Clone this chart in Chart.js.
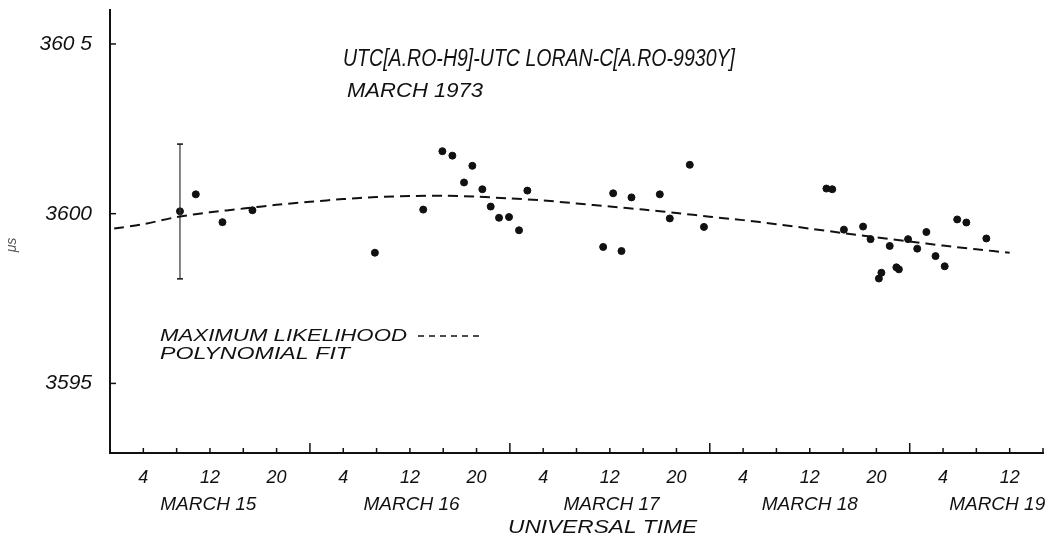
<!DOCTYPE html>
<html>
<head>
<meta charset="utf-8">
<script src="https://cdn.jsdelivr.net/npm/chart.js@4.4.1/dist/chart.umd.min.js"></script>
<style>
  html, body { margin: 0; padding: 0; background: #fff; }
</style>
</head>
<body>
<canvas id="chart" width="1051" height="539"></canvas>
<script>
// Observed values, hours counted from March 15 00h UT
const obsHours = [8.4, 10.3, 13.5, 17.1, 31.8, 37.6, 39.9, 41.1, 42.5, 43.5, 44.7, 45.7, 46.7, 47.9,
    49.1, 50.1, 59.2, 60.4, 61.4, 62.6, 66.0, 67.2, 69.6, 71.3, 86.0, 86.7, 88.1, 90.4, 91.3, 92.3,
    92.6, 93.6, 94.4, 94.7, 95.8, 96.9, 98.0, 99.1, 100.2, 101.7, 102.8, 105.2];
const obsValues = [3600.07, 3600.57, 3599.75, 3600.10, 3598.85, 3600.12, 3601.84, 3601.71, 3600.92,
    3601.41, 3600.72, 3600.21, 3599.88, 3599.90, 3599.51, 3600.68, 3599.02, 3600.60, 3598.90, 3600.48,
    3600.57, 3599.86, 3601.44, 3599.61, 3600.74, 3600.72, 3599.53, 3599.62, 3599.25, 3598.09, 3598.26,
    3599.05, 3598.42, 3598.36, 3599.25, 3598.97, 3599.46, 3598.75, 3598.45, 3599.83, 3599.74, 3599.27];

// Maximum likelihood polynomial fit (dashed)
const fitHours = [0.5, 4, 8, 12, 16, 20, 24, 28, 32, 36, 40, 44, 48, 52, 56, 60, 64, 68, 72, 76,
    80, 84, 88, 92, 96, 100, 104, 108];
const fitValues = [3599.56, 3599.69, 3599.90, 3600.04, 3600.15, 3600.26, 3600.35, 3600.43, 3600.49,
    3600.52, 3600.53, 3600.50, 3600.45, 3600.39, 3600.30, 3600.21, 3600.12, 3600.02, 3599.91, 3599.81,
    3599.69, 3599.56, 3599.43, 3599.30, 3599.18, 3599.06, 3598.95, 3598.85];

// Error bar on the first point
const errHour = 8.4;
const errLow = 3598.08;
const errHigh = 3602.05;

// Axis ticks and labels
const hourTicks = [];
for (let h = 0; h <= 112; h += 4) hourTicks.push(h);
const hourLabels = { 4: "4", 12: "12", 20: "20" };
const dayLabelHours = [11.8, 36.2, 60.2, 84, 106.5];
const dayLabels = ["MARCH 15", "MARCH 16", "MARCH 17", "MARCH 18", "MARCH 19"];
const yTicks = [3605, 3600, 3595];
const yLabels = ["360 5", "3600", "3595"];

const FONT = "'Liberation Sans', 'DejaVu Sans', sans-serif";
const INK = "#111";

// draw text stretched/condensed to a given width
function fitText(c, text, x, y, width, size) {
    c.save();
    c.font = "italic " + size + "px " + FONT;
    const w = c.measureText(text).width;
    c.translate(x, y);
    c.scale(width / w, 1);
    c.fillText(text, 0, 0);
    c.restore();
}

function noPad(s) {
    s.paddingTop = 0;
    s.paddingBottom = 0;
    s.paddingLeft = 0;
    s.paddingRight = 0;
}

const decor = {
    id: "decor",
    afterDraw(chart) {
        const c = chart.ctx;
        const xs = chart.scales.x;
        const ys = chart.scales.y;
        const area = chart.chartArea;
        c.save();
        c.strokeStyle = INK;
        c.lineWidth = 1.5;
        // tick marks pointing into the plot
        hourTicks.forEach(h => {
            if (h === 0) return;
            const px = xs.getPixelForValue(h);
            const len = h % 24 === 0 ? 10 : 5;
            c.beginPath();
            c.moveTo(px, area.bottom);
            c.lineTo(px, area.bottom - len);
            c.stroke();
        });
        yTicks.forEach(v => {
            const py = ys.getPixelForValue(v);
            c.beginPath();
            c.moveTo(area.left, py);
            c.lineTo(area.left + 6, py);
            c.stroke();
        });

        // texts
        c.fillStyle = INK;
        c.textBaseline = "alphabetic";
        c.textAlign = "left";
        fitText(c, "UTC[A.RO-H9]-UTC LORAN-C[A.RO-9930Y]", 343, 66, 392, 23);
        fitText(c, "MARCH 1973", 347, 97, 136, 21);
        fitText(c, "MAXIMUM LIKELIHOOD", 160, 341, 247, 17);
        fitText(c, "POLYNOMIAL FIT", 160, 359, 190, 17);
        fitText(c, "UNIVERSAL TIME", 508, 533, 189, 18);

        // legend dashes
        c.setLineDash([6, 5]);
        c.lineWidth = 1.5;
        c.beginPath();
        c.moveTo(418, 336);
        c.lineTo(482, 336);
        c.stroke();
        c.setLineDash([]);

        // unit label
        c.save();
        c.translate(16, 245);
        c.rotate(-Math.PI / 2);
        c.textAlign = "center";
        c.fillStyle = "#555";
        c.font = "italic 14px " + FONT;
        c.fillText("μs", 0, 0);
        c.restore();
        c.restore();
    }
};

const ctx = document.getElementById("chart").getContext("2d");
new Chart(ctx, {
    type: "scatter",
    data: {
        datasets: [
            {
                type: "line",
                label: "fit",
                data: fitHours.map((h, i) => ({ x: h, y: fitValues[i] })),
                borderColor: INK,
                borderWidth: 2,
                borderDash: [10, 6],
                pointRadius: 0,
                fill: false,
                tension: 0.3,
            },
            {
                type: "line",
                label: "error",
                data: [{ x: errHour, y: errLow }, { x: errHour, y: errHigh }],
                borderColor: "#333",
                borderWidth: 1.2,
                pointStyle: "line",
                pointRadius: 3,
                pointBorderWidth: 1.5,
                pointBorderColor: INK,
                fill: false,
            },
            {
                label: "obs",
                data: obsHours.map((h, i) => ({ x: h, y: obsValues[i] })),
                backgroundColor: INK,
                borderColor: INK,
                pointRadius: 3.5,
            },
        ],
    },
    options: {
        responsive: false,
        animation: false,
        devicePixelRatio: 1,
        layout: { padding: { top: 10, right: 8, left: 0, bottom: 0 } },
        plugins: { legend: { display: false }, tooltip: { enabled: false } },
        scales: {
            x: {
                type: "linear",
                position: "bottom",
                weight: 0,
                min: 0,
                max: 112,
                afterBuildTicks: (s) => { s.ticks = hourTicks.map(v => ({ value: v })); },
                afterFit: (s) => { s.height = 30; noPad(s); },
                ticks: {
                    autoSkip: false,
                    maxRotation: 0,
                    padding: 6,
                    color: INK,
                    font: { family: FONT, size: 18, style: "italic" },
                    callback: (v) => hourLabels[v % 24] || "",
                },
                grid: { display: false },
                border: { display: true, color: INK, width: 2 },
            },
            x2: {
                type: "linear",
                position: "bottom",
                weight: 1,
                min: 0,
                max: 112,
                afterBuildTicks: (s) => { s.ticks = dayLabelHours.map(v => ({ value: v })); },
                afterFit: (s) => { s.height = 56; noPad(s); },
                ticks: {
                    autoSkip: false,
                    maxRotation: 0,
                    padding: 2,
                    color: INK,
                    font: { family: FONT, size: 19, style: "italic" },
                    callback: (v) => dayLabels[dayLabelHours.indexOf(v)] || "",
                },
                grid: { display: false },
                border: { display: false },
            },
            y: {
                type: "linear",
                min: 3592.95,
                max: 3606,
                afterBuildTicks: (s) => { s.ticks = yTicks.map(v => ({ value: v })); },
                afterFit: (s) => { s.width = 110; noPad(s); },
                ticks: {
                    padding: 10,
                    color: INK,
                    font: { family: FONT, size: 21, style: "italic" },
                    callback: (v) => yLabels[yTicks.indexOf(v)] || "",
                },
                grid: { display: false },
                border: { display: true, color: INK, width: 2 },
            },
        },
    },
    plugins: [decor],
});
</script>
</body>
</html>
